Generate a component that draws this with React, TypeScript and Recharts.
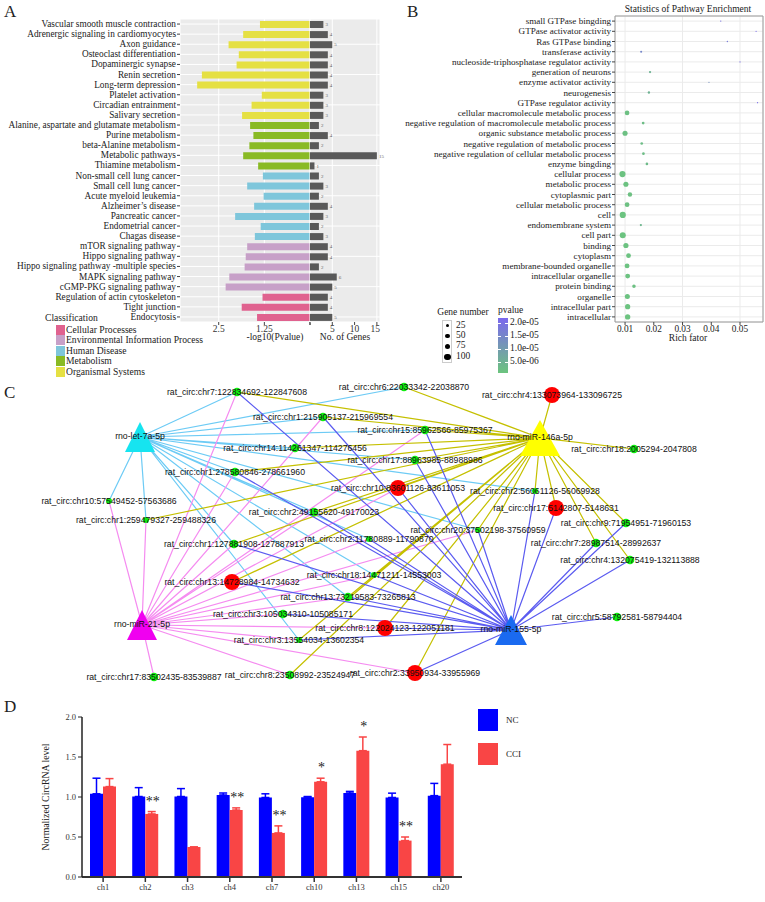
import React from "react";
import {
  BarChart,
  Bar,
  XAxis,
  YAxis,
  ZAxis,
  CartesianGrid,
  Cell,
  LabelList,
  ErrorBar,
  ScatterChart,
  Scatter,
  ReferenceArea,
} from "recharts";

// Four-panel figure: KEGG bars (A), GO dot plot (B), circRNA–miRNA network (C), qPCR bars (D).

const SERIF = "'Liberation Serif','Times New Roman',serif";
const SANS = "'Liberation Sans',Arial,sans-serif";

// ---------- A: KEGG enrichment ----------
const keggTerms = [
  "Vascular smooth muscle contraction",
  "Adrenergic signaling in cardiomyocytes",
  "Axon guidance",
  "Osteoclast differentiation",
  "Dopaminergic synapse",
  "Renin secretion",
  "Long-term depression",
  "Platelet activation",
  "Circadian entrainment",
  "Salivary secretion",
  "Alanine, aspartate and glutamate metabolism",
  "Purine metabolism",
  "beta-Alanine metabolism",
  "Metabolic pathways",
  "Thiamine metabolism",
  "Non-small cell lung cancer",
  "Small cell lung cancer",
  "Acute myeloid leukemia",
  "Alzheimer’s disease",
  "Pancreatic cancer",
  "Endometrial cancer",
  "Chagas disease",
  "mTOR signaling pathway",
  "Hippo signaling pathway",
  "Hippo signaling pathway -multiple species",
  "MAPK signaling pathway",
  "cGMP-PKG signaling pathway",
  "Regulation of actin cytoskeleton",
  "Tight junction",
  "Endocytosis",
];
const keggLogP = [
  1.37, 1.83, 2.23, 1.95, 2.01, 2.96, 3.09, 1.32, 1.6, 1.86, 1.64, 1.55, 1.66, 1.83, 1.42,
  1.29, 1.72, 1.27, 1.53, 2.05, 1.35, 1.51, 1.72, 1.76, 1.79, 2.21, 2.31, 1.3, 1.87, 1.45,
];
const keggGenes = [3, 4, 5, 4, 4, 4, 4, 3, 3, 3, 2, 4, 2, 15, 1, 2, 3, 2, 4, 3, 2, 3, 4, 4, 2, 6, 5, 4, 4, 5];
const keggClass = [4, 4, 4, 4, 4, 4, 4, 4, 4, 4, 3, 3, 3, 3, 3, 2, 2, 2, 2, 2, 2, 2, 1, 1, 1, 1, 1, 0, 0, 0];
const classNames = [
  "Cellular Processes",
  "Environmental Information Process",
  "Human Disease",
  "Metabolism",
  "Organismal Systems",
];
const classColors = ["#E0628F", "#C7A0C8", "#7EC6DB", "#89BA24", "#E5E043"];

// ---------- B: GO enrichment ----------
const goTerms = [
  "small GTPase bingding",
  "GTPase activator activity",
  "Ras GTPase binding",
  "transferase activity",
  "nucleoside-triphosphatase regulator activity",
  "generation of neurons",
  "enzyme activator activity",
  "neurogenesis",
  "GTPase regulator activity",
  "cellular macromolecule metabolic process",
  "negative regulation of macromolecule metabolic process",
  "organic substance metabolic process",
  "negative regulation of metabolic process",
  "negative regulation of cellular metabolic process",
  "enzyme bingding",
  "cellular process",
  "metabolic process",
  "cytoplasmic part",
  "cellular metabolic process",
  "cell",
  "endomembrane system",
  "cell part",
  "binding",
  "cytoplasm",
  "membrane-bounded organelle",
  "intracellular organelle",
  "protein binding",
  "organelle",
  "intracellular part",
  "intracellular",
];
const goRich = [
  0.0433, 0.0556, 0.0456, 0.0156, 0.05, 0.0187, 0.0392, 0.0183, 0.0561, 0.0107, 0.0163, 0.01,
  0.0158, 0.0164, 0.0176, 0.0091, 0.0103, 0.0117, 0.0107, 0.0092, 0.0155, 0.0092, 0.0103,
  0.0112, 0.0107, 0.0109, 0.0131, 0.0108, 0.0109, 0.0109,
];
const goGenes = [
  5, 4, 5, 12, 4, 14, 4, 15, 4, 60, 20, 72, 20, 20, 18, 105, 72, 55, 62, 105, 14, 100, 75, 62,
  65, 65, 35, 70, 75, 78,
];
const goP = [
  1.8e-5, 2.0e-5, 1.7e-5, 1.4e-5, 1.9e-5, 4e-6, 1.2e-5, 4e-6, 2.0e-5, 1e-6, 1.5e-6, 1e-6,
  1.5e-6, 1.5e-6, 2e-6, 5e-7, 5e-7, 8e-7, 8e-7, 3e-7, 3e-6, 3e-7, 5e-7, 5e-7, 5e-7, 5e-7, 1e-6,
  5e-7, 3e-7, 3e-7,
];
const richTicks = [0.01, 0.02, 0.03, 0.04, 0.05];
const geneLegend = [25, 50, 75, 100];
const pLegend = ["2.0e-05", "1.5e-05", "1.0e-05", "5.0e-06"];

// ---------- C: circRNA–miRNA network (layout) ----------
const circNames = [
  "rat_circ:chr7:122834692-122847608",
  "rat_circ:chr6:22033342-22038870",
  "rat_circ:chr4:133073964-133096725",
  "rat_circ:chr1:215905137-215969554",
  "rat_circ:chr15:85962566-85975367",
  "rat_circ:chr14:114261347-114276456",
  "rat_circ:chr17:88963985-88988986",
  "rat_circ:chr1:278580846-278661960",
  "rat_circ:chr10:83601126-83611053",
  "rat_circ:chr10:57549452-57563686",
  "rat_circ:chr2:56061126-56069928",
  "rat_circ:chr17:5142807-5148631",
  "rat_circ:chr2:49155620-49170023",
  "rat_circ:chr1:259479327-259488326",
  "rat_circ:chr9:71954951-71960153",
  "rat_circ:chr20:37502198-37560959",
  "rat_circ:chr2:11780889-11790870",
  "rat_circ:chr7:28987514-28992637",
  "rat_circ:chr1:127881908-127887913",
  "rat_circ:chr4:132075419-132113888",
  "rat_circ:chr18:14471211-14553003",
  "rat_circ:chr13:14728984-14734632",
  "rat_circ:chr13:73219583-73265813",
  "rat_circ:chr5:58792581-58794404",
  "rat_circ:chr3:105034310-105085171",
  "rat_circ:chr8:122024123-122051181",
  "rat_circ:chr3:13554034-13602354",
  "rat_circ:chr17:83502435-83539887",
  "rat_circ:chr8:23508992-23524947",
  "rat_circ:chr2:33950934-33955969",
  "rat_circ:chr18:2005294-2047808",
];
const circX = [237, 404, 552, 323, 425, 295, 415, 235, 398, 109, 535, 556, 314, 146, 626, 478, 369, 596, 234, 630, 374, 232, 348, 617, 283, 385, 299, 154, 290, 415, 634];
const circY = [392, 387, 395, 417, 430, 448, 460, 472, 488, 501, 491, 508, 512, 520, 523, 530, 539, 543, 544, 560, 575, 582, 597, 617, 614, 628, 640, 677, 675, 673, 449];
// "de" = differentially expressed (red), "low" = low degree (small green)
const circKind = [
  "n", "n", "de", "n", "n", "n", "n", "n", "de", "low", "low", "de", "n", "low", "n", "low",
  "low", "n", "n", "n", "low", "de", "n", "n", "n", "de", "low", "n", "n", "de", "n",
];
const mirNames = ["rno-let-7a-5p", "rno-miR-21-5p", "rno-miR-146a-5p", "rno-miR-155-5p"];
const mirX = [140, 142, 540, 511];
const mirY = [437, 625, 438, 630];
const mirTargets = [
  [0, 1, 3, 4, 5, 6, 7, 9, 13, 18, 12, 10, 15, 20, 22, 26, 16],
  [9, 13, 27, 0, 3, 4, 7, 12, 24, 25, 26, 28, 29, 15, 8, 16, 22, 20, 18],
  [2, 30, 10, 11, 14, 17, 19, 15, 29, 25, 0, 1, 3, 4, 5, 6, 8, 7, 12, 13, 18, 21, 22, 26, 28, 20],
  [0, 3, 4, 6, 8, 7, 10, 11, 14, 17, 19, 23, 29, 25, 26, 24, 22, 20, 16, 18, 15, 12, 21],
];

// ---------- D: qPCR validation ----------
const qCats = ["ch1", "ch2", "ch3", "ch4", "ch7", "ch10", "ch13", "ch15", "ch20"];
const ncMean = [1.04, 1.006, 1.006, 1.025, 0.994, 0.998, 1.05, 0.994, 1.017];
const ncErr = [0.195, 0.111, 0.099, 0.025, 0.046, 0.008, 0.02, 0.054, 0.153];
const cciMean = [1.13, 0.788, 0.375, 0.837, 0.551, 1.19, 1.579, 0.455, 1.41];
const cciErr = [0.1, 0.03, 0, 0.027, 0.088, 0.045, 0.171, 0.045, 0.246];
const cciStars = ["", "**", "", "**", "**", "*", "*", "**", ""];

// ---------- styles ----------
const mirFill = ["#16E4F0", "#F000F0", "#FFFF00", "#1A6AF0"];
const mirEdge = ["#6DCBF5", "#F58CF0", "#C5C000", "#5B5BF0"];
const mirSize = [
  [30, 30],
  [30, 30],
  [40, 36],
  [32, 30],
];

function pColor(p: number) {
  const t = Math.max(0, Math.min(1, p / 2.1e-5));
  const lo = [108, 196, 126];
  const hi = [123, 104, 238];
  const c = lo.map((v, i) => Math.round(v + (hi[i] - v) * t));
  return `rgb(${c[0]},${c[1]},${c[2]})`;
}

function Txt({ x, y, children, size = 9.5, font = SERIF, anchor = "middle", color = "#222", rotate = 0 }: any) {
  const tx = anchor === "middle" ? "-50%" : anchor === "end" ? "-100%" : "0";
  return (
    <div
      style={{
        position: "absolute",
        left: x,
        top: y,
        transform: `translate(${tx},-50%)${rotate ? ` rotate(${rotate}deg)` : ""}`,
        fontSize: size,
        fontFamily: font,
        color,
        whiteSpace: "nowrap",
        lineHeight: 1,
      }}
    >
      {children}
    </div>
  );
}

// plain one-line y tick (Recharts' own tick would wrap long category names)
const yTick = (size: number, names?: string[]) => (p: any) => (
  <text x={p.x} y={p.y} textAnchor="end" dominantBaseline="central" fontSize={size} fontFamily={SERIF} fill="#222">
    {names ? names[p.payload.value] : p.payload.value}
  </text>
);

const Empty = () => <g />;

function PanelA() {
  const rows = keggTerms.map((t, i) => ({ term: t, logp: keggLogP[i], genes: keggGenes[i], cls: keggClass[i] }));
  const tick = { fontSize: 9.5, fill: "#333", fontFamily: SERIF };
  return (
    <>
      <div style={{ position: "absolute", left: 0, top: 19 }}>
        <BarChart width={310} height={330} data={rows} layout="vertical" margin={{ top: 0, right: 0, bottom: 0, left: 0 }} barCategoryGap={0}>
          <CartesianGrid fill="#EBEBEB" stroke="#FFFFFF" />
          <XAxis type="number" domain={[0, 3.56]} reversed ticks={[0, 1.25, 2.5]} tickFormatter={(v) => (v === 0 ? "" : String(v))} height={27} axisLine={false} tickLine={{ stroke: "#444" }} tickSize={3} tickMargin={0} tick={tick} />
          <YAxis type="category" dataKey="term" width={180} axisLine={false} tickLine={{ stroke: "#444" }} tickSize={3} tickMargin={1} interval={0} tick={yTick(9.3)} />
          <Bar dataKey="logp" barSize={7} isAnimationActive={false}>
            {rows.map((r, i) => (
              <Cell key={i} fill={classColors[r.cls]} />
            ))}
          </Bar>
        </BarChart>
      </div>
      <div style={{ position: "absolute", left: 310, top: 19 }}>
        <BarChart width={70} height={330} data={rows} layout="vertical" margin={{ top: 0, right: 0, bottom: 0, left: 0 }} barCategoryGap={0}>
          <CartesianGrid fill="#EBEBEB" stroke="#FFFFFF" />
          <XAxis type="number" domain={[0, 15.7]} ticks={[0, 5, 10, 15]} tickFormatter={(v) => (v === 0 ? "" : String(v))} height={27} axisLine={false} tickLine={{ stroke: "#444" }} tickSize={3} tickMargin={0} tick={tick} />
          <YAxis type="category" dataKey="term" hide />
          <Bar dataKey="genes" fill="#595959" barSize={7} isAnimationActive={false}>
            <LabelList dataKey="genes" position="right" offset={2} fontSize={5} fill="#666" />
          </Bar>
        </BarChart>
      </div>
      <Txt x={275} y={338}>-log10(Pvalue)</Txt>
      <Txt x={345} y={338}>No. of Genes</Txt>
      <Txt x={45} y={318} anchor="start" size={9.6}>Classification</Txt>
      {classNames.map((n, i) => (
        <React.Fragment key={n}>
          <div style={{ position: "absolute", left: 56, top: 325 + i * 10.4, width: 9, height: 10, background: classColors[i] }} />
          <Txt x={66} y={330 + i * 10.4} anchor="start" size={9.6}>{n}</Txt>
        </React.Fragment>
      ))}
    </>
  );
}

function PanelB() {
  const rows = goTerms.map((t, i) => ({ row: i, rich: goRich[i], genes: goGenes[i], p: goP[i] }));
  const tick = { fontSize: 9.3, fill: "#222", fontFamily: SERIF };
  return (
    <>
      <div style={{ position: "absolute", left: 380, top: 0 }}>
        <ScatterChart width={385} height={345} margin={{ top: 16, right: 2, bottom: 0, left: 0 }}>
          <CartesianGrid stroke="#EBEBEB" />
          <XAxis type="number" dataKey="rich" domain={[0.0065, 0.058]} ticks={richTicks} tickFormatter={(v) => v.toFixed(2)} height={23} axisLine={false} tickLine={{ stroke: "#444" }} tickSize={3} tickMargin={0} tick={tick} allowDataOverflow />
          <YAxis type="number" dataKey="row" domain={[-0.5, 29.5]} reversed ticks={goTerms.map((_, i) => i)} width={235} interval={0} axisLine={false} tickLine={{ stroke: "#444" }} tickSize={3} tickMargin={1} tick={yTick(9.1, goTerms)} allowDataOverflow />
          <ZAxis type="number" dataKey="genes" domain={[0, 100]} range={[0, 30]} />
          <ReferenceArea x1={0.0065} x2={0.058} y1={-0.5} y2={29.5} fill="none" stroke="#9A9A9A" />
          <Scatter data={rows} isAnimationActive={false}>
            {rows.map((r, i) => (
              <Cell key={i} fill={pColor(r.p)} />
            ))}
          </Scatter>
        </ScatterChart>
      </div>
      <Txt x={688} y={10}>Statistics of Pathway Enrichment</Txt>
      <Txt x={688} y={339}>Rich fator</Txt>
      <Txt x={463} y={313}>Gene number</Txt>
      <div style={{ position: "absolute", left: 442, top: 320, width: 10, height: 43, border: "1px solid #CCC", boxSizing: "border-box" }} />
      {geneLegend.map((g, i) => {
        const d = Math.sqrt((g / 100) * 30 * 4 / Math.PI);
        return (
          <React.Fragment key={g}>
            <div style={{ position: "absolute", left: 447.5 - d / 2, top: 325.5 + i * 10.4 - d / 2, width: d, height: d, borderRadius: "50%", background: "#000" }} />
            <Txt x={456} y={325.5 + i * 10.4} anchor="start">{g}</Txt>
          </React.Fragment>
        );
      })}
      <Txt x={498} y={311} anchor="start">pvalue</Txt>
      <div style={{ position: "absolute", left: 498, top: 318, width: 10, height: 55, background: `linear-gradient(${pColor(2.1e-5)}, ${pColor(1.05e-5)}, ${pColor(0)})` }} />
      {pLegend.map((l, i) => (
        <React.Fragment key={l}>
          <div style={{ position: "absolute", left: 498, top: 323 + i * 13, width: 3, height: 1, background: "#fff" }} />
          <div style={{ position: "absolute", left: 505, top: 323 + i * 13, width: 3, height: 1, background: "#fff" }} />
          <Txt x={510} y={323 + i * 13} anchor="start">{l}</Txt>
        </React.Fragment>
      ))}
    </>
  );
}

function PanelC() {
  const circ = circNames.map((n, i) => ({ x: circX[i], y: circY[i], name: n, kind: circKind[i] }));
  const mirs = mirNames.map((n, i) => ({ x: mirX[i], y: mirY[i], name: n, idx: i }));
  const CircDot = (p: any) => {
    const k = p.payload.kind;
    const r = k === "de" ? 8 : k === "low" ? 3 : 4.3;
    return <circle cx={p.cx} cy={p.cy} r={r} fill={k === "de" ? "#FF0000" : "#10EE10"} />;
  };
  const CircLabel = (p: any) => (
    <text x={p.cx} y={p.cy} textAnchor="middle" dominantBaseline="central" fontSize={8.7} fontFamily={SANS} fill="#111">
      {p.payload.name}
    </text>
  );
  const MirShape = (p: any) => {
    const i = p.payload.idx;
    const [w, h] = mirSize[i];
    return (
      <g>
        <polygon points={`${p.cx},${p.cy - h / 2} ${p.cx - w / 2},${p.cy + h / 2} ${p.cx + w / 2},${p.cy + h / 2}`} fill={mirFill[i]} />
        <text x={p.cx} y={p.cy - 1} textAnchor="middle" dominantBaseline="central" fontSize={8.7} fontFamily={SANS} fill="#111">
          {p.payload.name}
        </text>
      </g>
    );
  };
  return (
    <div style={{ position: "absolute", left: 0, top: 370 }}>
      <ScatterChart width={765} height={320} margin={{ top: 0, right: 0, bottom: 0, left: 0 }}>
        <XAxis type="number" dataKey="x" domain={[0, 765]} hide />
        <YAxis type="number" dataKey="y" domain={[370, 690]} reversed hide />
        {mirTargets.map((ts, m) => (
          <Scatter
            key={m}
            data={ts.flatMap((t) => [
              { x: mirX[m], y: mirY[m] },
              { x: circX[t], y: circY[t] },
            ])}
            line={{ stroke: mirEdge[m], strokeWidth: 1.2 }}
            lineType="joint"
            shape={Empty}
            isAnimationActive={false}
          />
        ))}
        <Scatter data={circ} shape={CircDot} isAnimationActive={false} />
        <Scatter data={mirs} shape={MirShape} isAnimationActive={false} />
        <Scatter data={circ} shape={CircLabel} isAnimationActive={false} />
      </ScatterChart>
    </div>
  );
}

function PanelD() {
  const rows = qCats.map((c, i) => ({
    cat: c,
    nc: ncMean[i],
    ncE: [0, ncErr[i]],
    cci: cciMean[i],
    cciE: [0, cciErr[i]],
    stars: cciStars[i],
  }));
  const Stars = (p: any) => {
    const i = p.index;
    if (!p.value || i == null) return null;
    const unit = p.height / cciMean[i];
    const cy = p.y - (cciErr[i] + 0.16) * unit;
    return (
      <text x={p.x + p.width / 2 + 1} y={cy + 7} textAnchor="middle" fontSize={14} fontFamily={SERIF} fill="#222">
        {p.value}
      </text>
    );
  };
  const tick = { fontSize: 8.5, fill: "#333", fontFamily: SERIF };
  return (
    <>
      <div style={{ position: "absolute", left: 0, top: 700 }}>
        <BarChart width={475} height={202} data={rows} margin={{ top: 17, right: 13, bottom: 0, left: 0 }} barGap={0} barSize={13}>
          <XAxis dataKey="cat" height={25} axisLine={{ stroke: "#333", strokeWidth: 2 }} tickLine={{ stroke: "#333", strokeWidth: 1.5 }} tickSize={5} tick={tick} />
          <YAxis domain={[0, 2]} ticks={[0, 0.5, 1, 1.5, 2]} tickFormatter={(v) => v.toFixed(1)} width={82} axisLine={{ stroke: "#222", strokeWidth: 1.5 }} tickLine={{ stroke: "#222" }} tickSize={4} tick={tick} />
          <Bar dataKey="nc" fill="#0000FF" isAnimationActive={false}>
            <ErrorBar dataKey="ncE" width={4} stroke="#0000FF" strokeWidth={1.5} direction="y" />
          </Bar>
          <Bar dataKey="cci" fill="#F94545" isAnimationActive={false}>
            <ErrorBar dataKey="cciE" width={4} stroke="#F94545" strokeWidth={1.5} direction="y" />
            <LabelList dataKey="stars" content={Stars} />
          </Bar>
        </BarChart>
      </div>
      <Txt x={46} y={797} size={9.8} rotate={-90}>Normalized CircRNA level</Txt>
      <div style={{ position: "absolute", left: 478, top: 709, width: 20, height: 22, background: "#0000FF" }} />
      <div style={{ position: "absolute", left: 478, top: 743, width: 20, height: 22, background: "#F94545" }} />
      <Txt x={506} y={720} anchor="start" size={9}>NC</Txt>
      <Txt x={506} y={754} anchor="start" size={9}>CCI</Txt>
    </>
  );
}

export default function App() {
  return (
    <div style={{ position: "absolute", left: 0, top: 0, width: 765, height: 902, background: "#fff", overflow: "hidden" }}>
      <style>{`svg.recharts-surface{overflow:visible}`}</style>
      <Txt x={4} y={11} anchor="start" size={17}>A</Txt>
      <Txt x={407} y={11} anchor="start" size={17}>B</Txt>
      <Txt x={4} y={392} anchor="start" size={17}>C</Txt>
      <Txt x={4} y={706} anchor="start" size={17}>D</Txt>
      <PanelA />
      <PanelB />
      <PanelC />
      <PanelD />
    </div>
  );
}
